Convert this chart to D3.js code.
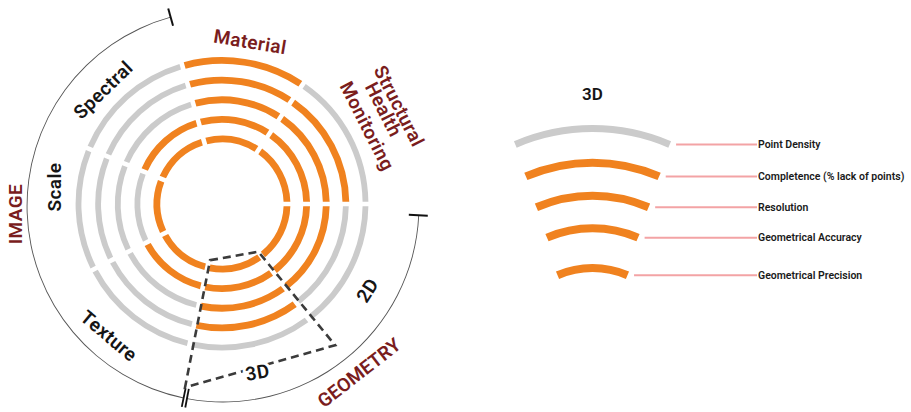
<!DOCTYPE html>
<html><head><meta charset="utf-8">
<script src="https://cdn.jsdelivr.net/npm/d3@7"></script>
<style>
body{margin:0;background:#fff}
svg{display:block}
text{font-family:Roboto,"Noto Sans",sans-serif}
</style>
</head><body>
<svg id="chart" width="911" height="412"></svg>
<script>
// ---------- DATA ----------
const sectors = ["Material", "Structural Health Monitoring", "2D", "3D", "Texture", "Scale", "Spectral"];
const sectorSpanDeg = [50, 56, 53, 50, 50, 49.5, 51.5];   // angular extent of each sector
const firstSectorStartDeg = -16;
const metrics = ["Point Density", "Completence (% lack of points)", "Resolution", "Geometrical Accuracy", "Geometrical Precision"];
// 1 = covered (orange), 0 = not covered (grey); one row per sector, one column per metric (outer -> inner)
const coverage = [
  [1, 1, 1, 1, 1], // Material
  [0, 1, 1, 1, 1], // Structural Health Monitoring
  [0, 0, 1, 1, 1], // 2D
  [0, 1, 1, 1, 1], // 3D
  [0, 0, 0, 1, 1], // Texture
  [0, 0, 0, 0, 1], // Scale
  [0, 0, 0, 1, 1]  // Spectral
];
const groupImage = ["Texture", "Scale", "Spectral"];
const groupGeometry = ["2D", "3D"];
const groupNames = ["IMAGE", "GEOMETRY"];
const legendSector = "3D";

// ---------- SETUP ----------
const svg = d3.select("#chart");
const ORANGE = "#f0821f", GREY = "#cbcbcb", DARKRED = "#7a1d1d", INK = "#151515";
const FS = 19, LS = "0.4px";
const cx = 222, cy = 204;
const rad = d3.scaleLinear().domain([0, 360]).range([0, 2 * Math.PI]);
const rScale = d3.scalePoint().domain(metrics).range([143.5, 65]);
const colour = d3.scaleOrdinal().domain([0, 1]).range([GREY, ORANGE]);
const halfW = d => d.on ? 3.4 : 2.9;

// sector angle bounds
const bounds = [];
let acc = firstSectorStartDeg;
sectors.forEach((s, i) => { bounds.push({ s, a0: acc, a1: acc + sectorSpanDeg[i] }); acc += sectorSpanDeg[i]; });
const bySector = Object.fromEntries(bounds.map(b => [b.s, b]));

const cells = [];
bounds.forEach((b, i) => metrics.forEach((m, j) => cells.push({ s: b.s, m, a0: b.a0, a1: b.a1, on: coverage[i][j] })));

const cellArc = d3.arc()
  .innerRadius(d => rScale(d.m) - halfW(d))
  .outerRadius(d => rScale(d.m) + halfW(d))
  .startAngle(d => rad(d.a0))
  .endAngle(d => rad(d.a1))
  .padAngle(0.046).padRadius(100);

const g = svg.append("g").attr("transform", `translate(${cx},${cy})`);
g.selectAll("path.cell").data(cells).join("path")
  .attr("class", "cell").attr("d", cellArc).attr("fill", d => colour(d.on));

const polar = (aDeg, r) => [r * Math.sin(rad(aDeg)), -r * Math.cos(rad(aDeg))];

// ---------- group brackets (thin arcs) ----------
const tg = svg.append("g").attr("transform", `translate(${cx + 1},${cy + 2})`);
const thin = d3.arc().innerRadius(195.5).outerRadius(196.4);
const imgStart = bySector[groupImage[0]].a0 - 1.4;      // bottom break
const imgEnd = bySector[groupImage[groupImage.length - 1]].a1 + 0.5;
const geoStart = bySector[groupGeometry[0]].a0 + 2.7;
const geoEnd = bySector[groupGeometry[groupGeometry.length - 1]].a1 - 2.4;
tg.append("path").attr("d", thin({ startAngle: rad(imgStart), endAngle: rad(imgEnd) })).attr("fill", "#555");
tg.append("path").attr("d", thin({ startAngle: rad(geoStart), endAngle: rad(geoEnd) })).attr("fill", "#555");
function tick(aDeg, r0, r1, w) {
  const p0 = polar(aDeg, r0), p1 = polar(aDeg, r1);
  tg.append("line").attr("x1", p0[0]).attr("y1", p0[1]).attr("x2", p1[0]).attr("y2", p1[1])
    .attr("stroke", "#111").attr("stroke-width", w);
}
tick(imgEnd, 187, 205, 2);
tick(geoStart, 186, 205, 2);
tick(imgStart, 186, 205, 1.8);
tick(geoEnd, 186, 205, 1.8);

// ---------- dashed outline for the 3D sector ----------
const b3 = bySector[legendSector];
const corners = [polar(b3.a1 - 1, 57.5), polar(b3.a0 - 0.3, 60), polar(b3.a0 - 1.7, 181), polar(b3.a1 - 1.6, 187)];
g.append("path").attr("d", d3.line()(corners) + "Z")
  .attr("fill", "none").attr("stroke", "#3b3b3b").attr("stroke-width", 2.6).attr("stroke-dasharray", "8,5");

// ---------- labels ----------
function label(txt, aDeg, r, rot, opts) {
  const p = polar(aDeg, r);
  const t = g.append("text").attr("transform", `translate(${p[0]},${p[1]}) rotate(${rot})`)
    .attr("text-anchor", "middle").attr("dominant-baseline", "central").attr("letter-spacing", opts.ls || LS)
    .attr("font-size", opts.size).attr("font-weight", opts.weight || 600).attr("fill", opts.fill).text(txt);
  if (opts.bg) t.attr("paint-order", "stroke").attr("stroke", "#fff").attr("stroke-width", 6);
  return t;
}
label(sectors[0], 9.8, 164.4, 9.5, { size: FS, fill: DARKRED });
label("Spectral", -46.2, 164.6, -44, { size: FS, fill: INK });
label("Scale", 275.8, 167.9, -90, { size: FS, fill: INK });
label("Texture", 220.6, 173.8, 40, { size: FS, fill: INK });
label("2D", 120.7, 169.3, -57, { size: FS, fill: INK });
label("3D", 168.1, 172.2, -10, { size: FS, fill: INK, bg: true });
label(groupNames[1], 140.9, 217.5, -38, { size: FS, fill: DARKRED, ls: "0px" });
label(groupNames[0], 267.2, 206.4, -90, { size: FS, fill: DARKRED });

// Structural Health Monitoring (three lines)
const shm = sectors[1].split(" ");
const shmPos = [[399, 106], [383.5, 109.5], [367, 126]];
shm.forEach((w, i) => {
  svg.append("text").attr("transform", `translate(${shmPos[i][0]},${shmPos[i][1]}) rotate(63)`)
    .attr("text-anchor", "middle").attr("dominant-baseline", "central").attr("letter-spacing", LS)
    .attr("font-size", FS).attr("font-weight", 600).attr("fill", DARKRED).text(w);
});

// ---------- legend ----------
const lgx = 592.5;
const legendScale = 1.36, legendHalf = 23.3;
const legendTops = [128.5, 162.7, 195.7, 228.3, 268];
const i3 = sectors.indexOf(legendSector);
svg.append("text").attr("x", lgx).attr("y", 94).attr("text-anchor", "middle").attr("dominant-baseline", "central")
  .attr("font-size", 17).attr("font-weight", 600).attr("fill", INK).text(legendSector);
metrics.forEach((m, j) => {
  const R = rScale(m) * legendScale;
  const on = coverage[i3][j];
  const hw = on ? 4 : 3.5;
  const ccy = legendTops[j] + R;
  const lg = svg.append("g").attr("transform", `translate(${lgx},${ccy})`);
  lg.append("path").attr("d", d3.arc()({ innerRadius: R - hw, outerRadius: R + hw, startAngle: rad(-legendHalf), endAngle: rad(legendHalf) }))
    .attr("fill", colour(on));
  const end = polar(legendHalf, R);
  const ly = ccy + end[1];
  const lx0 = lgx + end[0] + hw * Math.sin(rad(legendHalf)) + 5;
  svg.append("line").attr("x1", lx0).attr("x2", 757).attr("y1", ly).attr("y2", ly)
    .attr("stroke", "#f3a3a5").attr("stroke-width", 2);
  svg.append("text").attr("x", 758).attr("y", ly).attr("dominant-baseline", "central")
    .attr("font-size", 10.5).attr("font-weight", 600).attr("fill", "#1a1a1a").text(m);
});
</script>
</body></html>
